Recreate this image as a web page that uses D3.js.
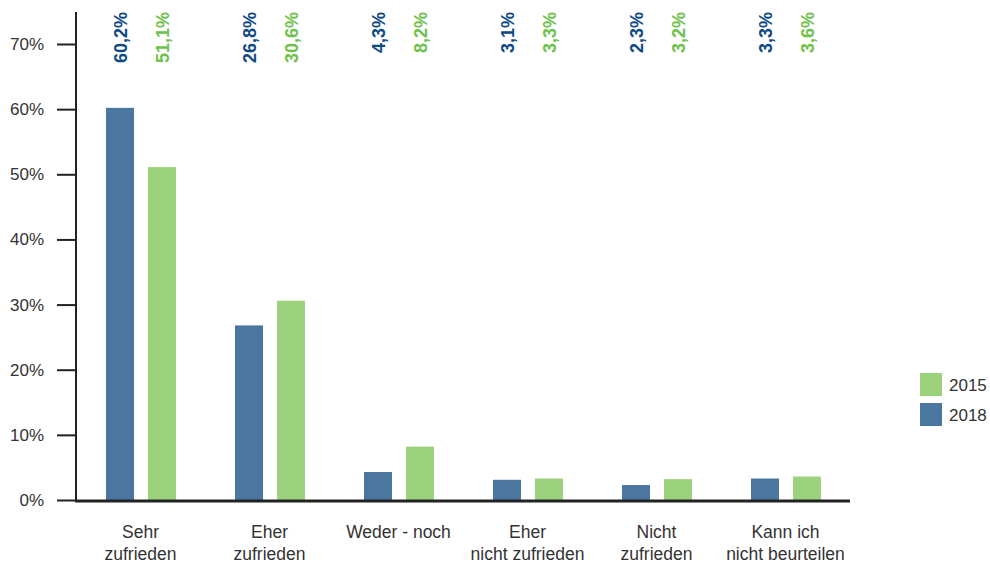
<!DOCTYPE html>
<html><head><meta charset="utf-8">
<script src="https://cdn.jsdelivr.net/npm/d3@7"></script>
<style>body{margin:0;background:#fff}svg{display:block;font-family:"Liberation Sans",Arial,sans-serif}</style>
</head><body><svg id="c" width="990" height="565"></svg>
<script>
const categories = [["Sehr","zufrieden"],["Eher","zufrieden"],["Weder - noch"],["Eher","nicht zufrieden"],["Nicht","zufrieden"],["Kann ich","nicht beurteilen"]];
const series2018 = [60.2, 26.8, 4.3, 3.1, 2.3, 3.3];
const series2015 = [51.1, 30.6, 8.2, 3.3, 3.2, 3.6];
const yTicks = [0,10,20,30,40,50,60,70];
const seriesNames = ["2018","2015"];

const svg = d3.select("#c");
const x0 = 76, x1 = 850, yBottom = 500, yTop70 = 44;
const x = d3.scaleBand().domain(d3.range(categories.length)).range([x0, x1]);
const y = d3.scaleLinear().domain([0,70]).range([yBottom, yTop70]);
const blue = "#4b76a0", green = "#9bd27b";
const blueT = "#0f4a86", greenT = "#6ec24b";
const barW = 28;

const data = [{name:"2018", vals:series2018, fill:blue, tc:blueT, off:-34.5},
              {name:"2015", vals:series2015, fill:green, tc:greenT, off:7.5}];

data.forEach(s=>{
  svg.append("g").selectAll("rect").data(s.vals).join("rect")
    .attr("x",(d,i)=>x(i)+x.bandwidth()/2+s.off)
    .attr("width",barW)
    .attr("y",d=>y(d))
    .attr("height",d=>yBottom-y(d))
    .attr("fill",s.fill);
  svg.append("g").selectAll("text").data(s.vals).join("text")
    .attr("transform",(d,i)=>`translate(${x(i)+x.bandwidth()/2+s.off+barW/2+6.5},12) rotate(-90)`)
    .attr("text-anchor","end")
    .attr("font-size",18).attr("font-weight","bold")
    .attr("fill",s.tc)
    .text(d=>d.toFixed(1).replace(".",",")+"%");
});

// y axis
const yAxis = d3.axisLeft(y).tickValues(yTicks).tickFormat(d=>d+"%").tickSize(19).tickPadding(13);
const ga = svg.append("g").attr("transform",`translate(${x0},0)`).call(yAxis);
ga.select(".domain").remove();
ga.selectAll(".tick line").attr("stroke","#222").attr("stroke-width",2);
ga.selectAll(".tick text").attr("font-size",17).attr("fill","#333").attr("font-family","'Liberation Sans',Arial,sans-serif");
svg.append("line").attr("x1",x0).attr("x2",x0).attr("y1",12).attr("y2",yBottom+1).attr("stroke","#222").attr("stroke-width",2);
svg.append("line").attr("x1",x0-1).attr("x2",x1).attr("y1",yBottom+1).attr("y2",yBottom+1).attr("stroke","#222").attr("stroke-width",3);

// category labels
const cl = svg.append("g").selectAll("text").data(categories).join("text")
  .attr("text-anchor","middle").attr("font-size",17.5).attr("fill","#333")
  .attr("x",(d,i)=>x(i)+x.bandwidth()/2);
cl.each(function(d,i){
  const t = d3.select(this);
  d.forEach((line,j)=>{
    t.append("tspan").attr("x",x(i)+x.bandwidth()/2).attr("y",538+j*22).text(line);
  });
});

// legend
const leg = [{name:"2015",fill:green,y:373},{name:"2018",fill:blue,y:403}];
const lg = svg.append("g");
lg.selectAll("rect").data(leg).join("rect").attr("x",920).attr("y",d=>d.y).attr("width",22).attr("height",23).attr("fill",d=>d.fill);
lg.selectAll("text").data(leg).join("text").attr("x",949).attr("y",d=>d.y+18).attr("font-size",17).attr("fill","#333").text(d=>d.name);
</script></body></html>
